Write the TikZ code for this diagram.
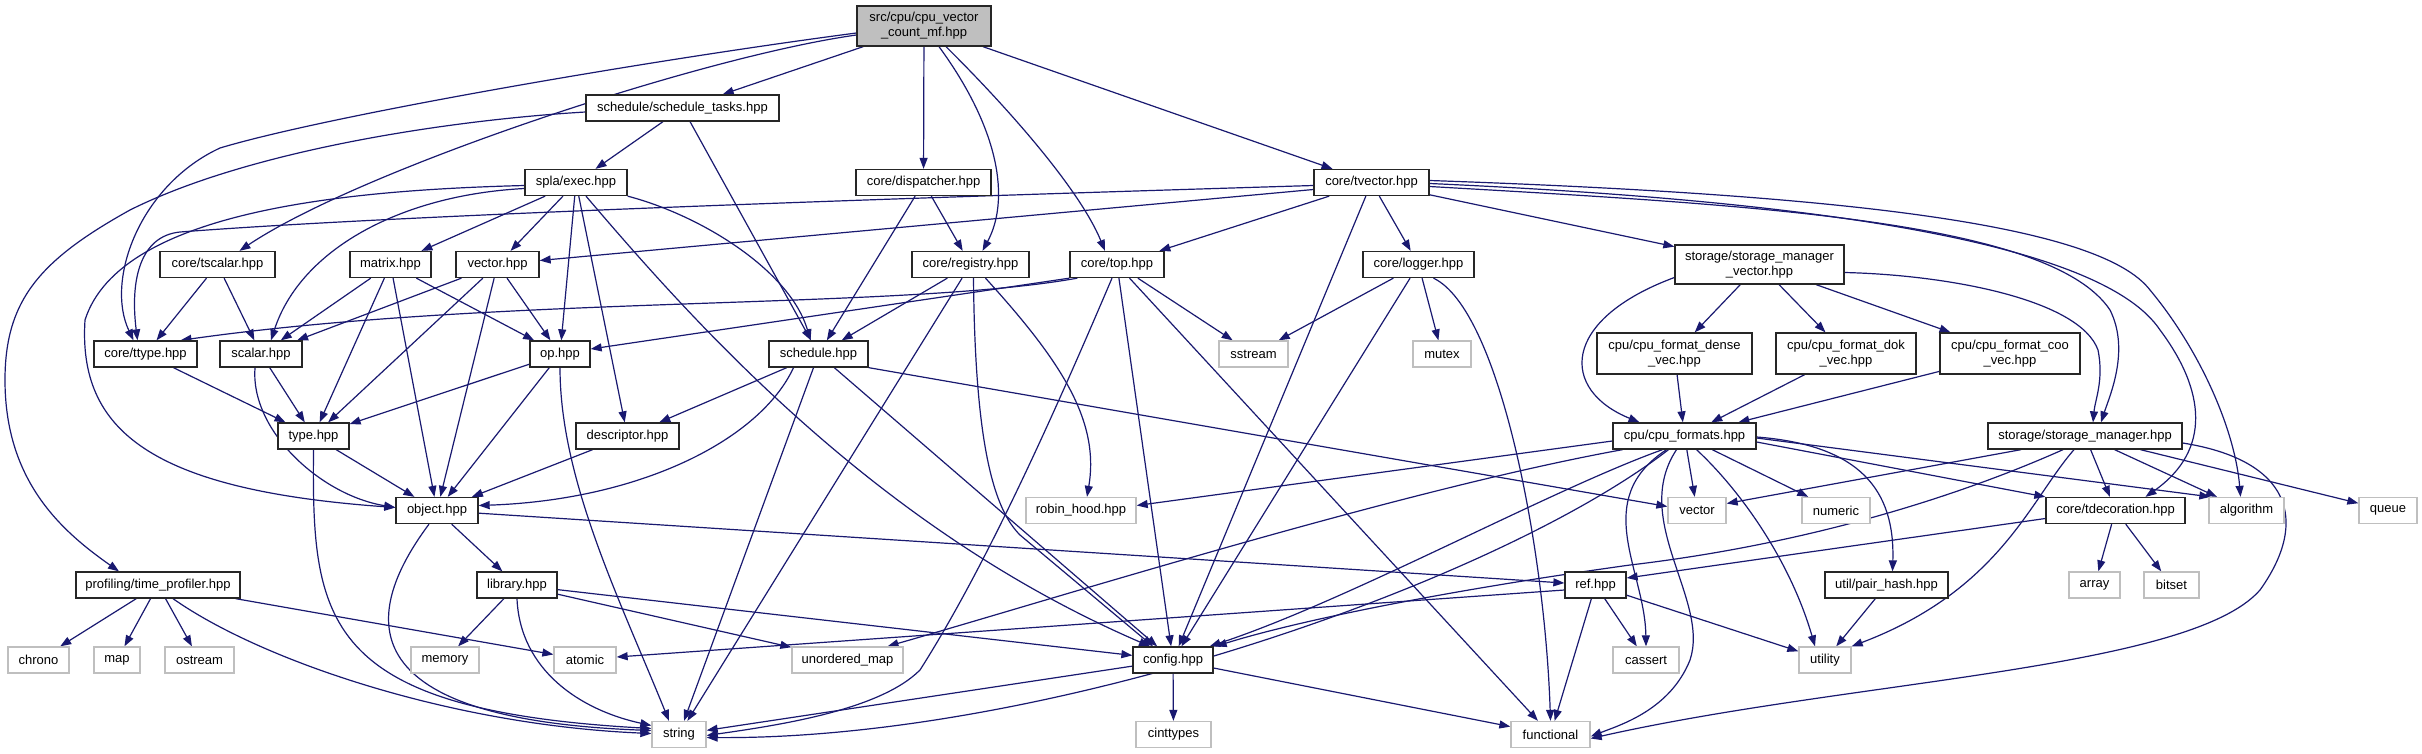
\documentclass[tikz,border=0pt]{standalone}
\usepackage{fontspec}
\setmainfont{Liberation Sans}
\usetikzlibrary{arrows.meta}
\definecolor{edgec}{HTML}{191970}
\definecolor{sysc}{HTML}{BFBFBF}
\pgfdeclarelayer{bg}
\pgfdeclarelayer{paper}
\pgfsetlayers{paper,bg,main}
\tikzset{
  nbox/.style={draw=black!85, line width=1.3pt, fill=white, inner sep=0pt, minimum height=26pt, font=\fontsize{13}{15}\selectfont, text=black},
  sbox/.style={nbox, draw=sysc},
  rbox/.style={nbox, fill=sysc},
  conn/.style={draw=edgec, line width=1.2pt, -{Triangle[length=11pt,width=8pt]}},
}
\begin{document}
\begin{tikzpicture}[x=1pt,y=-1pt]
\useasboundingbox (0,0) rectangle (2422,753);
\begin{pgfonlayer}{paper}
\fill[white] (0,0) rectangle (2422,753);
\end{pgfonlayer}
% nodes
\node[rbox, minimum width=134pt, minimum height=40pt, align=center] (root) at (924,26) {src/cpu/cpu\_vector\\\_count\_mf.hpp};
\node[nbox, minimum width=193pt] (stasks) at (682.5,108) {schedule/schedule\_tasks.hpp};
\node[nbox, minimum width=102pt] (exec) at (576,182.5) {spla/exec.hpp};
\node[nbox, minimum width=135pt] (disp) at (923.5,182.5) {core/dispatcher.hpp};
\node[nbox, minimum width=115pt] (tvector) at (1371.5,182.5) {core/tvector.hpp};
\node[nbox, minimum width=115pt] (tscalar) at (217.5,264.5) {core/tscalar.hpp};
\node[nbox, minimum width=81pt] (matrix) at (390.5,264.5) {matrix.hpp};
\node[nbox, minimum width=83pt] (vector) at (497.5,264.5) {vector.hpp};
\node[nbox, minimum width=117pt] (registry) at (970.5,264.5) {core/registry.hpp};
\node[nbox, minimum width=94pt] (top) at (1117,264.5) {core/top.hpp};
\node[nbox, minimum width=111pt] (logger) at (1418.5,264.5) {core/logger.hpp};
\node[nbox, minimum width=169pt, minimum height=39pt, align=center] (smv) at (1759.5,264.5) {storage/storage\_manager\\\_vector.hpp};
\node[nbox, minimum width=103pt] (ttype) at (145.5,354) {core/ttype.hpp};
\node[nbox, minimum width=82pt] (scalar) at (261,354) {scalar.hpp};
\node[nbox, minimum width=60pt] (op) at (560,354) {op.hpp};
\node[nbox, minimum width=99pt] (schedule) at (818.5,354) {schedule.hpp};
\node[sbox, minimum width=69pt] (sstream) at (1253.5,354) {sstream};
\node[sbox, minimum width=58pt] (mutex) at (1442,354) {mutex};
\node[nbox, minimum width=155pt, minimum height=41pt, align=center] (dense) at (1674.5,353.5) {cpu/cpu\_format\_dense\\\_vec.hpp};
\node[nbox, minimum width=140pt, minimum height=41pt, align=center] (dok) at (1846,353.5) {cpu/cpu\_format\_dok\\\_vec.hpp};
\node[nbox, minimum width=140pt, minimum height=41pt, align=center] (coo) at (2010,353.5) {cpu/cpu\_format\_coo\\\_vec.hpp};
\node[nbox, minimum width=71pt] (type) at (313.5,436) {type.hpp};
\node[nbox, minimum width=103pt] (descr) at (627.5,436) {descriptor.hpp};
\node[nbox, minimum width=143pt] (cpuf) at (1684.5,436) {cpu/cpu\_formats.hpp};
\node[nbox, minimum width=194pt] (smgr) at (2085,436) {storage/storage\_manager.hpp};
\node[nbox, minimum width=82pt] (object) at (437,510.5) {object.hpp};
\node[sbox, minimum width=110pt] (robin) at (1081,510.5) {robin\_hood.hpp};
\node[sbox, minimum width=58pt] (svector) at (1697,510.5) {vector};
\node[sbox, minimum width=68pt] (numeric) at (1836,510.5) {numeric};
\node[nbox, minimum width=139pt] (tdeco) at (2115.5,510.5) {core/tdecoration.hpp};
\node[sbox, minimum width=75pt] (algorithm) at (2246.5,510.5) {algorithm};
\node[sbox, minimum width=58pt] (queue) at (2388,510.5) {queue};
\node[nbox, minimum width=164pt] (profiler) at (158,585) {profiling/time\_profiler.hpp};
\node[nbox, minimum width=80pt] (library) at (517,585) {library.hpp};
\node[nbox, minimum width=61pt] (ref) at (1595.5,585) {ref.hpp};
\node[nbox, minimum width=123pt] (pairhash) at (1886.5,585) {util/pair\_hash.hpp};
\node[sbox, minimum width=51pt] (array) at (2094.5,585) {array};
\node[sbox, minimum width=55pt] (bitset) at (2171.5,585) {bitset};
\node[sbox, minimum width=61pt] (chrono) at (38.5,660) {chrono};
\node[sbox, minimum width=46pt] (map) at (117,660) {map};
\node[sbox, minimum width=69pt] (ostream) at (199.5,660) {ostream};
\node[sbox, minimum width=68pt] (memory) at (445,660) {memory};
\node[sbox, minimum width=62pt] (atomic) at (585,660) {atomic};
\node[sbox, minimum width=111pt] (umap) at (847.5,660) {unordered\_map};
\node[nbox, minimum width=80pt] (config) at (1173,660) {config.hpp};
\node[sbox, minimum width=66pt] (cassert) at (1646,660) {cassert};
\node[sbox, minimum width=52pt] (utility) at (1825,660) {utility};
\node[sbox, minimum width=54pt] (string) at (679,734.5) {string};
\node[sbox, minimum width=75pt] (cinttypes) at (1173.5,734.5) {cinttypes};
\node[sbox, minimum width=79pt] (functional) at (1550.5,734.5) {functional};

\begin{pgfonlayer}{bg}
% root
\draw[conn] (root) -- (stasks);
\draw[conn] (root) -- (disp);
\draw[conn] ([xshift=15pt]root.south) .. controls (1000,130) and (1010,200) .. ([xshift=12pt]registry.north);
\draw[conn] ([xshift=22pt]root.south) .. controls (1010,110) and (1080,190) .. ([xshift=-12pt]top.north);
\draw[conn] (root) -- (tvector);
\draw[conn] ([yshift=-9pt]root.west) .. controls (700,57) and (360,170) .. ([xshift=22pt]tscalar.north);
\draw[conn] ([yshift=-7pt]root.west) .. controls (650,60) and (330,115) .. (220,148) .. controls (140,185) and (105,280) .. ([xshift=-12pt]ttype.north);
% schedule_tasks
\draw[conn] (stasks) -- (exec);
\draw[conn] (stasks) -- (schedule);
\draw[conn] ([yshift=-4pt]stasks.west) .. controls (450,120) and (250,150) .. (130,210) .. controls (40,260) and (5,300) .. (5,380) .. controls (5,480) and (60,530) .. ([xshift=-39pt]profiler.north);
% exec
\draw[conn] ([yshift=-3pt]exec.west) .. controls (350,190) and (120,210) .. (85,320) .. controls (78,430) and (150,490) .. ([yshift=3pt]object.west);
\draw[conn] ([yshift=-6pt]exec.west) .. controls (400,195) and (300,250) .. ([xshift=10pt]scalar.north);
\draw[conn] (exec) -- (matrix);
\draw[conn] (exec) -- (vector);
\draw[conn] (exec) -- (op);
\draw[conn] (exec) -- (descr);
\draw[conn] ([xshift=10pt]exec.south) .. controls (700,330) and (880,530) .. ([xshift=-23pt]config.north);
\draw[conn] (exec.south east) .. controls (700,215) and (790,270) .. ([xshift=-8pt]schedule.north);
% matrix, vector
\draw[conn] (matrix) -- (scalar);
\draw[conn] (matrix) -- (type);
\draw[conn] (matrix) -- (object);
\draw[conn] (matrix) -- (op);
\draw[conn] (vector) -- (scalar);
\draw[conn] (vector) -- (type);
\draw[conn] (vector) -- (object);
\draw[conn] (vector) -- (op);
% tscalar, ttype, scalar, op, type
\draw[conn] (tscalar) -- (ttype);
\draw[conn] (tscalar) -- (scalar);
\draw[conn] (ttype) -- (type);
\draw[conn] (scalar) -- (type);
\draw[conn] ([xshift=-6pt]scalar.south) .. controls (250,430) and (320,495) .. ([yshift=3pt]object.west);
\draw[conn] (op) -- (type);
\draw[conn] (op) -- (object);
\draw[conn] (op.south) .. controls (560,480) and (620,600) .. ([xshift=-10pt]string.north);
\draw[conn] (type) -- (object);
\draw[conn] (type.south) .. controls (312,620) and (320,710) .. ([yshift=6pt]string.west);
\draw[conn] (descr) -- (object);
% object, library, profiler
\draw[conn] (object) -- (library);
\draw[conn] ([xshift=-8pt]object.south) .. controls (350,630) and (370,720) .. ([yshift=4pt]string.west);
\draw[conn] (object) -- (ref);
\draw[conn] (library) -- (memory);
\draw[conn] (library.south) .. controls (520,670) and (580,710) .. ([yshift=9pt]string.west);
\draw[conn] (library) -- (config);
\draw[conn] (library) -- (umap);
\draw[conn] (profiler) -- (chrono);
\draw[conn] (profiler) -- (map);
\draw[conn] (profiler) -- (ostream);
\draw[conn] (profiler) -- (atomic);
\draw[conn] ([xshift=15pt]profiler.south) .. controls (260,660) and (450,725) .. ([yshift=1pt]string.west);
% dispatcher, registry
\draw[conn] (disp) -- (schedule);
\draw[conn] (disp) -- (registry);
\draw[conn] (registry) -- (schedule);
\draw[conn] (registry) -- (string);
\draw[conn] ([xshift=3pt]registry.south) .. controls (975,450) and (995,510) .. (1020,535) -- ([xshift=-20pt]config.north);
\draw[conn] ([xshift=15pt]registry.south) .. controls (1060,360) and (1100,420) .. ([xshift=6pt]robin.north);
% top
\draw[conn] ([xshift=8pt]top.south west) .. controls (900,310) and (500,295) .. ([xshift=35pt]ttype.north);
\draw[conn] (top.south west) -- ([yshift=5pt]op.east);
\draw[conn] ([xshift=-5pt]top.south) .. controls (1060,400) and (990,560) .. (920,670) .. controls (880,710) and (780,725) .. ([yshift=-1pt]string.east);
\draw[conn] (top) -- (config);
\draw[conn] (top) -- (functional);
\draw[conn] (top) -- (sstream);
% tvector
\draw[conn] ([yshift=-3pt]tvector.west) .. controls (900,198) and (400,215) .. (180,232) .. controls (140,236) and (130,280) .. ([xshift=-8pt]ttype.north);
\draw[conn] ([yshift=-7pt]tvector.west) -- ([yshift=4pt]vector.east);
\draw[conn] (tvector) -- (top);
\draw[conn] (tvector) -- (logger);
\draw[conn] (tvector) -- (config);
\draw[conn] (tvector) -- (smv);
\draw[conn] ([yshift=-4pt]tvector.east) .. controls (1750,205) and (2050,220) .. (2110,310) .. controls (2130,350) and (2110,395) .. ([xshift=16pt]smgr.north);
\draw[conn] ([yshift=-1pt]tvector.east) .. controls (1800,200) and (2100,240) .. (2160,330) .. controls (2205,390) and (2212,450) .. ([xshift=30pt]tdeco.north);
\draw[conn] ([yshift=2pt]tvector.east) .. controls (1850,195) and (2100,225) .. (2150,290) .. controls (2200,350) and (2235,430) .. ([xshift=-6pt]algorithm.north);
% logger
\draw[conn] (logger) -- (sstream);
\draw[conn] (logger) -- (mutex);
\draw[conn] (logger) -- (config);
\draw[conn] ([xshift=15pt]logger.south) .. controls (1500,310) and (1545,550) .. (functional.north);
% storage manager vector
\draw[conn] ([yshift=-13pt]smv.west) .. controls (1560,320) and (1560,390) .. ([xshift=-45pt]cpuf.north);
\draw[conn] (smv) -- (dense);
\draw[conn] (smv) -- (dok);
\draw[conn] (smv) -- (coo);
\draw[conn] ([yshift=-8pt]smv.east) .. controls (1950,275) and (2080,300) .. (2098,350) .. controls (2104,380) and (2095,400) .. ([xshift=8pt]smgr.north);
\draw[conn] (dense) -- (cpuf);
\draw[conn] (dok) -- (cpuf);
\draw[conn] (coo) -- (cpuf);
% cpu formats
\draw[conn] ([yshift=-5pt]cpuf.west) -- ([yshift=5pt]robin.east);
\draw[conn] ([xshift=-62pt]cpuf.south) .. controls (1400,490) and (1050,600) .. ([xshift=40pt]umap.north);
\draw[conn] ([xshift=-22pt]cpuf.south) .. controls (1550,490) and (1350,600) .. ([xshift=-4pt]config.north east);
\draw[conn] ([xshift=-16pt]cpuf.south) .. controls (1500,580) and (1050,740) .. ([yshift=-3pt]string.east);
\draw[conn] ([xshift=-8pt]cpuf.south) .. controls (1630,520) and (1710,600) .. (1690,660) .. controls (1670,710) and (1620,725) .. ([yshift=-2pt]functional.east);
\draw[conn] ([xshift=-18pt]cpuf.south) .. controls (1590,500) and (1645,570) .. (cassert.north);
\draw[conn] (cpuf) -- (svector);
\draw[conn] ([xshift=12pt]cpuf.south) .. controls (1740,490) and (1790,560) .. ([xshift=-10pt]utility.north);
\draw[conn] (cpuf) -- (numeric);
\draw[conn] ([yshift=-2pt]cpuf.east) -- ([xshift=2pt]algorithm.north west);
\draw[conn] ([yshift=-6pt]cpuf.east) -- (tdeco.north west);
\draw[conn] ([yshift=-1pt]cpuf.east) .. controls (1860,445) and (1895,490) .. ([xshift=6pt]pairhash.north);
% storage manager
\draw[conn] ([xshift=-64pt]smgr.south) -- ([yshift=7pt]svector.east);
\draw[conn] ([xshift=-22pt]smgr.south) .. controls (1950,500) and (1800,545) .. (1630,565) .. controls (1450,590) and (1300,620) .. ([xshift=2pt]config.north east);
\draw[conn] ([xshift=-11pt]smgr.south) .. controls (2030,500) and (2000,590) .. (utility.north east);
\draw[conn] (smgr) -- (tdeco);
\draw[conn] (smgr) -- (algorithm);
\draw[conn] (smgr) -- (queue);
\draw[conn] ([yshift=-7pt]smgr.east) .. controls (2290,460) and (2310,520) .. (2260,590) .. controls (2190,670) and (1850,680) .. ([yshift=-4pt]functional.east);
% tdecoration
\draw[conn] ([yshift=-8pt]tdeco.west) -- ([yshift=7pt]ref.east);
\draw[conn] (tdeco) -- (array);
\draw[conn] (tdeco) -- (bitset);
% ref, pair_hash
\draw[conn] ([yshift=-5pt]ref.west) -- ([yshift=3pt]atomic.east);
\draw[conn] (ref) -- (cassert);
\draw[conn] (ref) -- (functional);
\draw[conn] (ref) -- (utility);
\draw[conn] (pairhash) -- (utility);
% config
\draw[conn] (config) -- (string);
\draw[conn] (config) -- (cinttypes);
\draw[conn] (config) -- (functional);
% schedule
\draw[conn] ([xshift=-25pt]schedule.south) .. controls (760,440) and (640,500) .. ([yshift=5pt]object.east);
\draw[conn] (schedule) -- (descr);
\draw[conn] (schedule) -- (string);
\draw[conn] (schedule) -- (config);
\draw[conn] (schedule.south east) -- ([yshift=4pt]svector.west);
\end{pgfonlayer}
\end{tikzpicture}
\end{document}
